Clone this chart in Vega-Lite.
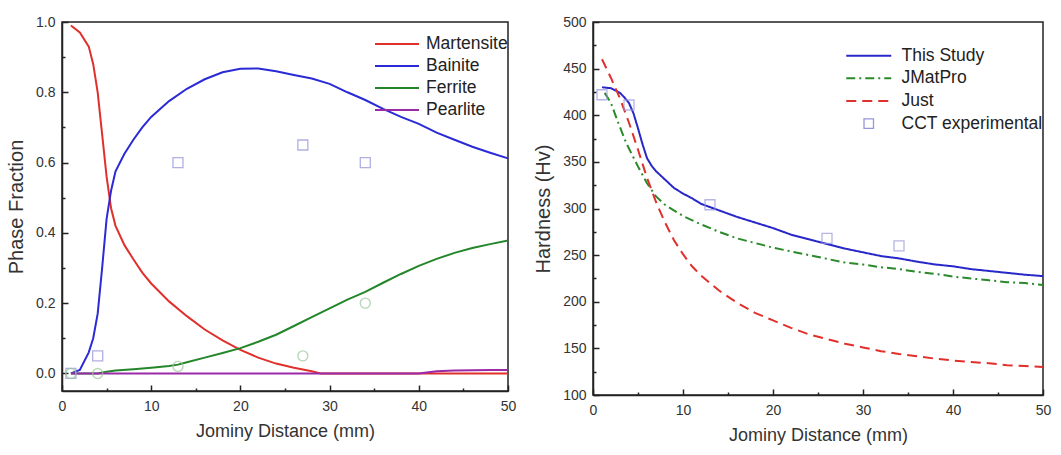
{
  "$schema": "https://vega.github.io/schema/vega-lite/v6.json",
  "background": "white",
  "padding": {"left": 5, "top": 14, "right": 5, "bottom": 5},
  "spacing": 15,
  "resolve": {"scale": {"color": "independent", "strokeDash": "independent"}, "legend": {"color": "independent", "strokeDash": "independent"}},
  "config": {
    "font": "Liberation Sans",
    "view": {"stroke": "#222", "strokeWidth": 1.5},
    "axis": {
      "labelFont": "Liberation Sans", "labelFontSize": 14, "labelColor": "#333",
      "titleFont": "Liberation Sans", "titleFontSize": 18, "titleFontWeight": "normal", "titleColor": "#333",
      "domainColor": "#222", "domainWidth": 1.5, "tickColor": "#222", "tickWidth": 1.5,
      "grid": false, "labelFlush": false, "labelOverlap": false
    },
    "axisY": {"titleFontSize": 20},
    "legend": {"labelFont": "Liberation Sans", "labelFontSize": 17.5, "labelColor": "#222"}
  },
  "datasets": {
    "phase": [
      {"x": 1, "y": 0.99, "s": "Martensite"}, {"x": 2, "y": 0.97, "s": "Martensite"}, {"x": 3, "y": 0.93, "s": "Martensite"},
      {"x": 3.5, "y": 0.88, "s": "Martensite"}, {"x": 4, "y": 0.8, "s": "Martensite"}, {"x": 4.5, "y": 0.68, "s": "Martensite"},
      {"x": 5, "y": 0.56, "s": "Martensite"}, {"x": 5.5, "y": 0.47, "s": "Martensite"}, {"x": 6, "y": 0.42, "s": "Martensite"},
      {"x": 7, "y": 0.365, "s": "Martensite"}, {"x": 8, "y": 0.325, "s": "Martensite"}, {"x": 9, "y": 0.287, "s": "Martensite"},
      {"x": 10, "y": 0.256, "s": "Martensite"}, {"x": 12, "y": 0.205, "s": "Martensite"}, {"x": 14, "y": 0.163, "s": "Martensite"},
      {"x": 16, "y": 0.125, "s": "Martensite"}, {"x": 18, "y": 0.094, "s": "Martensite"}, {"x": 20, "y": 0.067, "s": "Martensite"},
      {"x": 22, "y": 0.045, "s": "Martensite"}, {"x": 24, "y": 0.028, "s": "Martensite"}, {"x": 26, "y": 0.016, "s": "Martensite"},
      {"x": 28, "y": 0.006, "s": "Martensite"}, {"x": 29, "y": 0, "s": "Martensite"}, {"x": 35, "y": 0, "s": "Martensite"},
      {"x": 40, "y": 0, "s": "Martensite"}, {"x": 45, "y": 0, "s": "Martensite"}, {"x": 50, "y": 0, "s": "Martensite"},
      {"x": 1, "y": 0, "s": "Bainite"}, {"x": 2, "y": 0.01, "s": "Bainite"}, {"x": 3, "y": 0.06, "s": "Bainite"},
      {"x": 3.5, "y": 0.1, "s": "Bainite"}, {"x": 4, "y": 0.17, "s": "Bainite"}, {"x": 4.5, "y": 0.3, "s": "Bainite"},
      {"x": 5, "y": 0.44, "s": "Bainite"}, {"x": 5.5, "y": 0.52, "s": "Bainite"}, {"x": 6, "y": 0.575, "s": "Bainite"},
      {"x": 7, "y": 0.625, "s": "Bainite"}, {"x": 8, "y": 0.665, "s": "Bainite"}, {"x": 9, "y": 0.7, "s": "Bainite"},
      {"x": 10, "y": 0.73, "s": "Bainite"}, {"x": 12, "y": 0.775, "s": "Bainite"}, {"x": 14, "y": 0.81, "s": "Bainite"},
      {"x": 16, "y": 0.837, "s": "Bainite"}, {"x": 18, "y": 0.857, "s": "Bainite"}, {"x": 20, "y": 0.867, "s": "Bainite"},
      {"x": 22, "y": 0.868, "s": "Bainite"}, {"x": 24, "y": 0.86, "s": "Bainite"}, {"x": 26, "y": 0.849, "s": "Bainite"},
      {"x": 28, "y": 0.839, "s": "Bainite"}, {"x": 30, "y": 0.824, "s": "Bainite"}, {"x": 32, "y": 0.8, "s": "Bainite"},
      {"x": 34, "y": 0.778, "s": "Bainite"}, {"x": 36, "y": 0.753, "s": "Bainite"}, {"x": 38, "y": 0.73, "s": "Bainite"},
      {"x": 40, "y": 0.71, "s": "Bainite"}, {"x": 42, "y": 0.685, "s": "Bainite"}, {"x": 44, "y": 0.665, "s": "Bainite"},
      {"x": 46, "y": 0.645, "s": "Bainite"}, {"x": 48, "y": 0.628, "s": "Bainite"}, {"x": 50, "y": 0.612, "s": "Bainite"},
      {"x": 1, "y": 0, "s": "Ferrite"}, {"x": 4, "y": 0, "s": "Ferrite"}, {"x": 5, "y": 0.005, "s": "Ferrite"},
      {"x": 6, "y": 0.008, "s": "Ferrite"}, {"x": 8, "y": 0.012, "s": "Ferrite"}, {"x": 10, "y": 0.016, "s": "Ferrite"},
      {"x": 12, "y": 0.021, "s": "Ferrite"}, {"x": 13, "y": 0.025, "s": "Ferrite"}, {"x": 14, "y": 0.032, "s": "Ferrite"},
      {"x": 16, "y": 0.045, "s": "Ferrite"}, {"x": 18, "y": 0.058, "s": "Ferrite"}, {"x": 20, "y": 0.072, "s": "Ferrite"},
      {"x": 22, "y": 0.09, "s": "Ferrite"}, {"x": 24, "y": 0.11, "s": "Ferrite"}, {"x": 26, "y": 0.135, "s": "Ferrite"},
      {"x": 28, "y": 0.16, "s": "Ferrite"}, {"x": 30, "y": 0.185, "s": "Ferrite"}, {"x": 32, "y": 0.21, "s": "Ferrite"},
      {"x": 34, "y": 0.232, "s": "Ferrite"}, {"x": 36, "y": 0.258, "s": "Ferrite"}, {"x": 38, "y": 0.283, "s": "Ferrite"},
      {"x": 40, "y": 0.306, "s": "Ferrite"}, {"x": 42, "y": 0.326, "s": "Ferrite"}, {"x": 44, "y": 0.343, "s": "Ferrite"},
      {"x": 46, "y": 0.357, "s": "Ferrite"}, {"x": 48, "y": 0.368, "s": "Ferrite"}, {"x": 50, "y": 0.378, "s": "Ferrite"},
      {"x": 1, "y": 0, "s": "Pearlite"}, {"x": 20, "y": 0, "s": "Pearlite"}, {"x": 40, "y": 0, "s": "Pearlite"},
      {"x": 42, "y": 0.006, "s": "Pearlite"}, {"x": 44, "y": 0.008, "s": "Pearlite"}, {"x": 46, "y": 0.009, "s": "Pearlite"},
      {"x": 48, "y": 0.01, "s": "Pearlite"}, {"x": 50, "y": 0.01, "s": "Pearlite"}
    ],
    "phaseExp": [
      {"x": 1, "y": 0, "s": "Bainite"}, {"x": 4, "y": 0.05, "s": "Bainite"}, {"x": 13, "y": 0.6, "s": "Bainite"},
      {"x": 27, "y": 0.65, "s": "Bainite"}, {"x": 34, "y": 0.6, "s": "Bainite"},
      {"x": 1, "y": 0, "s": "Ferrite"}, {"x": 4, "y": 0, "s": "Ferrite"}, {"x": 13, "y": 0.02, "s": "Ferrite"},
      {"x": 27, "y": 0.05, "s": "Ferrite"}, {"x": 34, "y": 0.2, "s": "Ferrite"}
    ],
    "hard": [
      {"x": 1, "y": 430, "s": "This Study"}, {"x": 2, "y": 429, "s": "This Study"}, {"x": 3, "y": 424, "s": "This Study"},
      {"x": 3.5, "y": 419, "s": "This Study"}, {"x": 4, "y": 413, "s": "This Study"}, {"x": 4.5, "y": 402, "s": "This Study"},
      {"x": 5, "y": 386, "s": "This Study"}, {"x": 5.5, "y": 369, "s": "This Study"}, {"x": 6, "y": 354, "s": "This Study"},
      {"x": 6.5, "y": 346, "s": "This Study"}, {"x": 7, "y": 340, "s": "This Study"}, {"x": 8, "y": 331, "s": "This Study"},
      {"x": 9, "y": 322, "s": "This Study"}, {"x": 10, "y": 316, "s": "This Study"}, {"x": 11, "y": 311, "s": "This Study"},
      {"x": 12, "y": 305, "s": "This Study"}, {"x": 14, "y": 298, "s": "This Study"}, {"x": 16, "y": 291, "s": "This Study"},
      {"x": 18, "y": 285, "s": "This Study"}, {"x": 20, "y": 279, "s": "This Study"}, {"x": 22, "y": 272, "s": "This Study"},
      {"x": 24, "y": 267, "s": "This Study"}, {"x": 26, "y": 262, "s": "This Study"}, {"x": 28, "y": 257, "s": "This Study"},
      {"x": 30, "y": 253, "s": "This Study"}, {"x": 32, "y": 249, "s": "This Study"}, {"x": 34, "y": 246.5, "s": "This Study"},
      {"x": 36, "y": 243, "s": "This Study"}, {"x": 38, "y": 240, "s": "This Study"}, {"x": 40, "y": 238, "s": "This Study"},
      {"x": 42, "y": 235, "s": "This Study"}, {"x": 44, "y": 233, "s": "This Study"}, {"x": 46, "y": 231, "s": "This Study"},
      {"x": 48, "y": 229, "s": "This Study"}, {"x": 50, "y": 227.5, "s": "This Study"},
      {"x": 1.3, "y": 424, "s": "JMatPro"}, {"x": 2, "y": 413, "s": "JMatPro"}, {"x": 2.8, "y": 392, "s": "JMatPro"},
      {"x": 3.7, "y": 370, "s": "JMatPro"}, {"x": 5, "y": 345, "s": "JMatPro"}, {"x": 6, "y": 327, "s": "JMatPro"},
      {"x": 7, "y": 313, "s": "JMatPro"}, {"x": 8, "y": 304, "s": "JMatPro"}, {"x": 10, "y": 292, "s": "JMatPro"},
      {"x": 12, "y": 283, "s": "JMatPro"}, {"x": 14, "y": 275, "s": "JMatPro"}, {"x": 16, "y": 268, "s": "JMatPro"},
      {"x": 18, "y": 263, "s": "JMatPro"}, {"x": 20, "y": 258, "s": "JMatPro"}, {"x": 22, "y": 254, "s": "JMatPro"},
      {"x": 24, "y": 250, "s": "JMatPro"}, {"x": 26, "y": 246, "s": "JMatPro"}, {"x": 28, "y": 242, "s": "JMatPro"},
      {"x": 30, "y": 240, "s": "JMatPro"}, {"x": 32, "y": 237, "s": "JMatPro"}, {"x": 34, "y": 235, "s": "JMatPro"},
      {"x": 36, "y": 232, "s": "JMatPro"}, {"x": 38, "y": 230, "s": "JMatPro"}, {"x": 40, "y": 227, "s": "JMatPro"},
      {"x": 42, "y": 225, "s": "JMatPro"}, {"x": 44, "y": 223, "s": "JMatPro"}, {"x": 46, "y": 221, "s": "JMatPro"},
      {"x": 48, "y": 220, "s": "JMatPro"}, {"x": 50, "y": 218, "s": "JMatPro"},
      {"x": 1, "y": 460, "s": "Just"}, {"x": 2, "y": 440, "s": "Just"}, {"x": 3, "y": 418, "s": "Just"},
      {"x": 4, "y": 392, "s": "Just"}, {"x": 5, "y": 363, "s": "Just"}, {"x": 6, "y": 333, "s": "Just"},
      {"x": 7, "y": 307, "s": "Just"}, {"x": 8, "y": 285, "s": "Just"}, {"x": 9, "y": 266, "s": "Just"},
      {"x": 10, "y": 251, "s": "Just"}, {"x": 11, "y": 238, "s": "Just"}, {"x": 12, "y": 228, "s": "Just"},
      {"x": 13, "y": 220, "s": "Just"}, {"x": 14, "y": 212, "s": "Just"}, {"x": 16, "y": 199, "s": "Just"},
      {"x": 18, "y": 188, "s": "Just"}, {"x": 20, "y": 180, "s": "Just"}, {"x": 22, "y": 172, "s": "Just"},
      {"x": 24, "y": 165, "s": "Just"}, {"x": 26, "y": 160, "s": "Just"}, {"x": 28, "y": 155, "s": "Just"},
      {"x": 30, "y": 151, "s": "Just"}, {"x": 32, "y": 147, "s": "Just"}, {"x": 34, "y": 144, "s": "Just"},
      {"x": 36, "y": 141.5, "s": "Just"}, {"x": 38, "y": 139, "s": "Just"}, {"x": 40, "y": 137, "s": "Just"},
      {"x": 42, "y": 135.5, "s": "Just"}, {"x": 44, "y": 134, "s": "Just"}, {"x": 46, "y": 132, "s": "Just"},
      {"x": 48, "y": 131, "s": "Just"}, {"x": 50, "y": 130, "s": "Just"}
    ],
    "hardExp": [
      {"x": 1, "y": 422, "s": "CCT experimental"}, {"x": 4, "y": 411, "s": "CCT experimental"},
      {"x": 13, "y": 304, "s": "CCT experimental"}, {"x": 26, "y": 268, "s": "CCT experimental"},
      {"x": 34, "y": 260, "s": "CCT experimental"}
    ]
  },
  "hconcat": [
    {
      "width": 446,
      "height": 369,
      "resolve": {"axis": {"x": "independent", "y": "independent"}},
      "layer": [
        {
          "data": {"name": "phase"},
          "mark": {"type": "line", "strokeWidth": 2},
          "encoding": {
            "x": {"field": "x", "type": "quantitative", "scale": {"domain": [0, 50], "nice": false},
              "axis": {"orient": "bottom", "values": [0, 10, 20, 30, 40, 50], "title": "Jominy Distance (mm)", "titlePadding": 9,
                "tickSize": -6, "labelPadding": 14}},
            "y": {"field": "y", "type": "quantitative", "scale": {"domain": [-0.05, 1], "nice": false, "zero": false},
              "axis": {"orient": "left", "values": [0, 0.2, 0.4, 0.6, 0.8, 1.0], "format": ".1f", "title": "Phase Fraction", "titlePadding": 9,
                "tickSize": -6, "labelPadding": 13}},
            "color": {"field": "s", "type": "nominal",
              "scale": {"domain": ["Martensite", "Bainite", "Ferrite", "Pearlite"], "range": ["#e0302c", "#2a2ad6", "#24862a", "#9a2aa8"]},
              "legend": {"orient": "none", "legendX": 323, "legendY": 10, "title": null, "symbolType": "M-2,0L2,0", "symbolSize": 484,
                "symbolStrokeWidth": 2, "labelOffset": 17, "rowPadding": 1}}
          }
        },
        {
          "data": {"name": "phaseExp"},
          "transform": [{"filter": "datum.s === 'Bainite'"}],
          "mark": {"type": "point", "shape": "square", "filled": false, "color": "#8f8fd8", "size": 100, "strokeWidth": 1.3},
          "encoding": {
            "x": {"field": "x", "type": "quantitative",
              "axis": {"orient": "bottom", "values": [5, 15, 25, 35, 45], "labels": false, "title": null, "domain": false, "tickSize": -3}},
            "y": {"field": "y", "type": "quantitative",
              "axis": {"orient": "left", "values": [0.1, 0.3, 0.5, 0.7, 0.9], "labels": false, "title": null, "domain": false, "tickSize": -3}}
          }
        },
        {
          "data": {"name": "phaseExp"},
          "transform": [{"filter": "datum.s === 'Ferrite'"}],
          "mark": {"type": "point", "shape": "circle", "filled": false, "color": "#9cc89c", "size": 100, "strokeWidth": 1.4},
          "encoding": {
            "x": {"field": "x", "type": "quantitative", "axis": null},
            "y": {"field": "y", "type": "quantitative", "axis": null}
          }
        }
      ]
    },
    {
      "width": 450,
      "height": 373,
      "resolve": {"axis": {"x": "independent", "y": "independent"}},
      "layer": [
        {
          "data": {"name": "hard"},
          "mark": {"type": "line", "strokeWidth": 2},
          "encoding": {
            "x": {"field": "x", "type": "quantitative", "scale": {"domain": [0, 50], "nice": false},
              "axis": {"orient": "bottom", "values": [0, 10, 20, 30, 40, 50], "title": "Jominy Distance (mm)", "titlePadding": 9,
                "tickSize": -6, "labelPadding": 14}},
            "y": {"field": "y", "type": "quantitative", "scale": {"domain": [100, 500], "nice": false, "zero": false},
              "axis": {"orient": "left", "values": [100, 150, 200, 250, 300, 350, 400, 450, 500], "title": "Hardness (Hv)", "titlePadding": 9,
                "tickSize": -6, "labelPadding": 13}},
            "color": {"field": "s", "type": "nominal",
              "scale": {"domain": ["This Study", "JMatPro", "Just", "CCT experimental"], "range": ["#2828c8", "#2a8a2a", "#e0302c", "#9696dc"]},
              "legend": {"orient": "none", "legendX": 267, "legendY": 25, "title": null, "symbolType": "M-2,0L2,0", "symbolSize": 506,
                "symbolStrokeWidth": 2, "labelOffset": 24, "rowPadding": 3.6,
                "encode": {"symbols": {"update": {
                  "shape": {"signal": "datum.value === 'CCT experimental' ? 'square' : 'M-2,0L2,0'"},
                  "size": {"signal": "datum.value === 'CCT experimental' ? 90 : 506"},
                  "strokeDash": {"signal": "datum.value === 'JMatPro' ? [9, 4, 2, 4] : datum.value === 'Just' ? [10, 6] : [1, 0]"},
                  "strokeWidth": {"signal": "datum.value === 'CCT experimental' ? 1.3 : 2"},
                  "fill": {"value": "transparent"}
                }}}}},
            "strokeDash": {"field": "s", "type": "nominal",
              "scale": {"domain": ["This Study", "JMatPro", "Just"], "range": [[1, 0], [9, 4, 2, 4], [10, 6]]}, "legend": null}
          }
        },
        {
          "data": {"name": "hardExp"},
          "mark": {"type": "point", "shape": "square", "filled": false, "size": 100, "strokeWidth": 1.3},
          "encoding": {
            "x": {"field": "x", "type": "quantitative",
              "axis": {"orient": "bottom", "values": [5, 15, 25, 35, 45], "labels": false, "title": null, "domain": false, "tickSize": -3}},
            "y": {"field": "y", "type": "quantitative",
              "axis": {"orient": "left", "values": [125, 175, 225, 275, 325, 375, 425, 475], "labels": false, "title": null, "domain": false, "tickSize": -3}},
            "color": {"field": "s", "type": "nominal"}
          }
        }
      ]
    }
  ]
}
